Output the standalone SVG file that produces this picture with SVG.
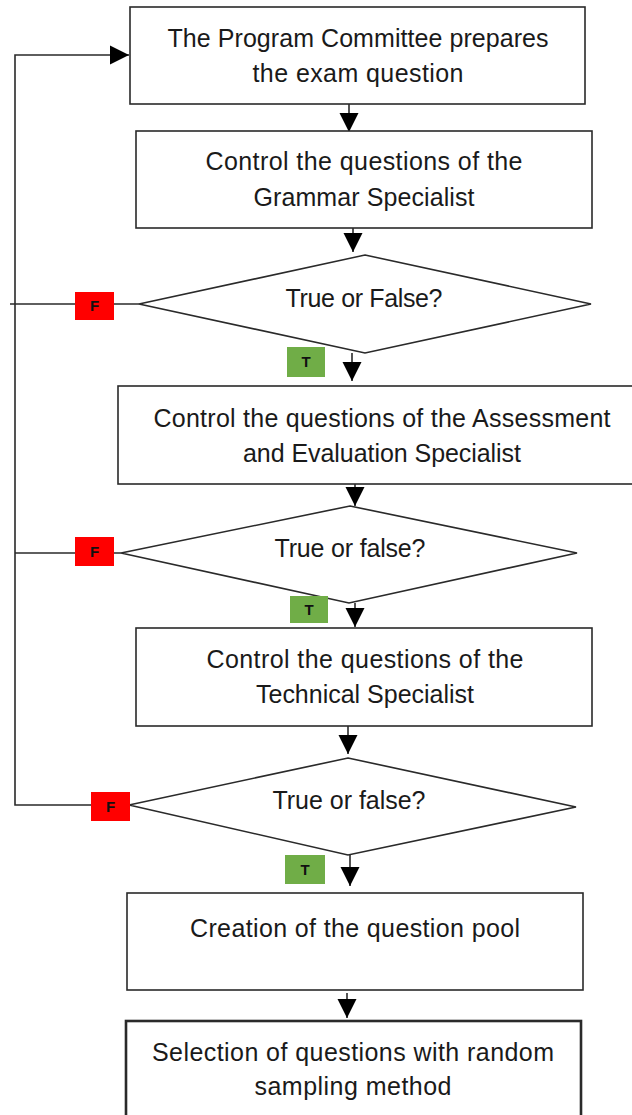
<svg xmlns="http://www.w3.org/2000/svg" width="632" height="1115" viewBox="0 0 632 1115">
<style>
  .box { fill: #fff; stroke: #2a2a2a; stroke-width: 1.6; }
  .thick { stroke-width: 2.6; }
  .txt { font-family: "Liberation Sans", Arial, sans-serif; font-size: 25px; fill: #1a1a1a; text-anchor: middle; }
  .conn { fill: none; stroke: #2a2a2a; stroke-width: 1.6; }
  .lblF { fill: #ff0000; }
  .lblT { fill: #70ad47; }
  .lbl { font-family: "Liberation Sans", Arial, sans-serif; font-size: 15px; font-weight: bold; fill: #111; text-anchor: middle; }
</style>
<defs>
  <marker id="arr" viewBox="0 0 10 10" refX="10" refY="5" markerUnits="userSpaceOnUse" markerWidth="19" markerHeight="22" orient="auto">
    <path d="M0,0 L10,5 L0,10 z" fill="#000"/>
  </marker>
</defs>
<rect width="632" height="1115" fill="#fff"/>

<g id="connectors">
  <line class="conn" x1="349" y1="104" x2="349" y2="132" marker-end="url(#arr)"/>
  <line class="conn" x1="353" y1="228" x2="353" y2="252" marker-end="url(#arr)"/>
  <line class="conn" x1="352" y1="353" x2="352" y2="381" marker-end="url(#arr)"/>
  <line class="conn" x1="355" y1="484" x2="355" y2="506" marker-end="url(#arr)"/>
  <line class="conn" x1="355" y1="603" x2="355" y2="627" marker-end="url(#arr)"/>
  <line class="conn" x1="348" y1="726" x2="348" y2="754" marker-end="url(#arr)"/>
  <line class="conn" x1="350" y1="855" x2="350" y2="886" marker-end="url(#arr)"/>
  <line class="conn" x1="347" y1="993" x2="347" y2="1018" marker-end="url(#arr)"/>
  <path class="conn" d="M139,304 L10,304"/>
  <path class="conn" d="M121,553 L15,553"/>
  <path class="conn" d="M129,805 L15,805 L15,55 L129,55" marker-end="url(#arr)"/>
</g>

<g id="n1">
  <rect class="box" x="130" y="7" width="455" height="97"/>
  <text class="txt" x="358" y="47" textLength="381">The Program Committee prepares</text>
  <text class="txt" x="358" y="82" textLength="211">the exam question</text>
</g>
<g id="n2">
  <rect class="box" x="136" y="131" width="456" height="97"/>
  <text class="txt" x="364" y="170" textLength="317">Control the questions of the</text>
  <text class="txt" x="364" y="206" textLength="221">Grammar Specialist</text>
</g>
<g id="d1">
  <polygon class="box" points="365,255 591,304 365,353 139,304"/>
  <text class="txt" x="364" y="307" textLength="157">True or False?</text>
</g>
<g id="f1">
  <rect class="lblF" x="75" y="292" width="39" height="28"/>
  <text class="lbl" x="94.5" y="311">F</text>
</g>
<g id="t1">
  <rect class="lblT" x="287" y="347" width="38" height="30"/>
  <text class="lbl" x="306" y="367">T</text>
</g>
<g id="n3">
  <rect class="box" x="118" y="386" width="530" height="98"/>
  <text class="txt" x="382" y="427" textLength="457">Control the questions of the Assessment</text>
  <text class="txt" x="382" y="462" textLength="278">and Evaluation Specialist</text>
</g>
<g id="d2">
  <polygon class="box" points="350,506 577,553 349,603 121,553"/>
  <text class="txt" x="350" y="557" textLength="151">True or false?</text>
</g>
<g id="f2">
  <rect class="lblF" x="75" y="537" width="39" height="29"/>
  <text class="lbl" x="94.5" y="557">F</text>
</g>
<g id="t2">
  <rect class="lblT" x="290" y="596" width="38" height="27"/>
  <text class="lbl" x="309" y="615">T</text>
</g>
<g id="n4">
  <rect class="box" x="136" y="628" width="456" height="98"/>
  <text class="txt" x="365" y="668" textLength="317">Control the questions of the</text>
  <text class="txt" x="365" y="703" textLength="218">Technical Specialist</text>
</g>
<g id="d3">
  <polygon class="box" points="348,758 576,807 348,855 129,805"/>
  <text class="txt" x="349" y="809" textLength="153">True or false?</text>
</g>
<g id="f3">
  <rect class="lblF" x="91" y="792" width="39" height="29"/>
  <text class="lbl" x="110.5" y="812">F</text>
</g>
<g id="t3">
  <rect class="lblT" x="285" y="855" width="40" height="29"/>
  <text class="lbl" x="305" y="875">T</text>
</g>
<g id="n5">
  <rect class="box" x="127" y="893" width="456" height="97"/>
  <text class="txt" x="355" y="937" textLength="330">Creation of the question pool</text>
</g>
<g id="n6">
  <rect class="box thick" x="126" y="1021" width="455" height="110"/>
  <text class="txt" x="353" y="1061" textLength="402">Selection of questions with random</text>
  <text class="txt" x="353" y="1095" textLength="197">sampling method</text>
</g>
</svg>
